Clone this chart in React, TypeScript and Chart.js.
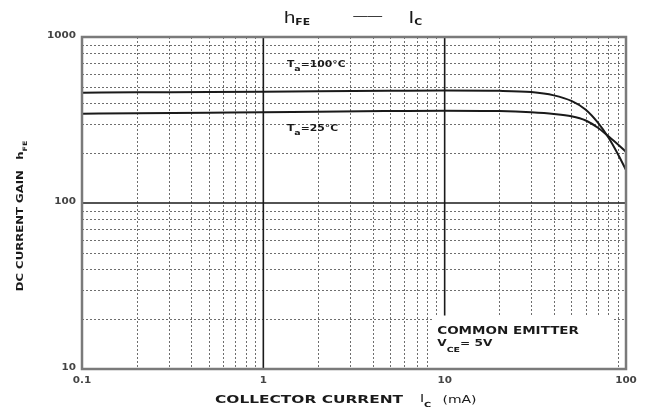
import React, { useEffect, useRef } from "react";
import { Chart, registerables } from "chart.js";

Chart.register(...registerables);

// ---- data ----
const currents = [0.1, 0.2, 0.5, 1, 2, 5, 10, 20, 30, 40, 50, 60, 70, 80, 90, 100];
const hfe100C = [462, 464, 466, 468, 471, 474, 476, 474, 466, 445, 412, 365, 305, 248, 198, 158];
const hfe25C = [345, 347, 350, 352, 355, 358, 360, 358, 352, 344, 333, 314, 284, 252, 226, 203];
const xTickValues = [0.1, 1, 10, 100];
const xTickLabels = ["0.1", "1", "10", "100"];
const yTickValues = [10, 100, 1000];
const yTickLabels = ["10", "100", "1000"];
const xMajorLines = [1, 10];
const yMajorLines = [100];
const xDecades = [0.1, 1, 10];
const yDecades = [10, 100];

const FONT = '"DejaVu Sans", "Liberation Sans", sans-serif';
const TITLE_FONT = '"Liberation Sans", Arial, sans-serif';

type Part = { t: string; size: number; dy?: number; weight?: string; family?: string; gap?: number };

function drawRich(
  ctx: CanvasRenderingContext2D,
  x: number,
  y: number,
  parts: Part[],
  opts: { align?: "left" | "center" | "right"; sx?: number; rot?: number; color?: string } = {}
) {
  const sx = opts.sx ?? 1.35;
  ctx.save();
  const widths = parts.map((p) => {
    ctx.font = `${p.weight ?? "bold"} ${p.size}px ${p.family ?? FONT}`;
    return ctx.measureText(p.t).width;
  });
  const total = widths.reduce((a, w, i) => a + w + (parts[i].gap ?? 0), 0);
  ctx.translate(x, y);
  if (opts.rot) ctx.rotate(opts.rot);
  ctx.scale(sx, 1);
  ctx.fillStyle = opts.color ?? "#1a1a1a";
  ctx.textBaseline = "middle";
  ctx.textAlign = "left";
  let cx = opts.align === "center" ? -total / 2 : opts.align === "right" ? -total : 0;
  parts.forEach((p, i) => {
    ctx.font = `${p.weight ?? "bold"} ${p.size}px ${p.family ?? FONT}`;
    ctx.fillText(p.t, cx, p.dy ?? 0);
    cx += widths[i] + (p.gap ?? 0);
  });
  ctx.restore();
}

const gridPlugin = {
  id: "logGrid",
  beforeDatasetsDraw(chart: any) {
    const { ctx, chartArea: a, scales } = chart;
    const xs = scales.x;
    const ys = scales.y;
    ctx.save();
    ctx.fillStyle = "#ffffff";
    ctx.fillRect(a.left, a.top, a.right - a.left, a.bottom - a.top);

    // minor dotted grid
    ctx.strokeStyle = "#6e6e6e";
    ctx.lineWidth = 1;
    ctx.setLineDash([2, 2]);
    xDecades.forEach((d) => {
      for (let k = 2; k <= 9; k++) {
        const px = Math.round(xs.getPixelForValue(d * k)) + 0.5;
        ctx.beginPath();
        ctx.moveTo(px, a.top);
        ctx.lineTo(px, a.bottom);
        ctx.stroke();
      }
    });
    yDecades.forEach((d) => {
      for (let k = 2; k <= 9; k++) {
        const py = Math.round(ys.getPixelForValue(d * k)) + 0.5;
        ctx.beginPath();
        ctx.moveTo(a.left, py);
        ctx.lineTo(a.right, py);
        ctx.stroke();
      }
    });

    // major solid lines
    ctx.setLineDash([]);
    ctx.strokeStyle = "#1a1a1a";
    ctx.lineWidth = 1.6;
    xMajorLines.forEach((v) => {
      const px = xs.getPixelForValue(v);
      ctx.beginPath();
      ctx.moveTo(px, a.top);
      ctx.lineTo(px, a.bottom);
      ctx.stroke();
    });
    yMajorLines.forEach((v) => {
      const py = ys.getPixelForValue(v);
      ctx.beginPath();
      ctx.moveTo(a.left, py);
      ctx.lineTo(a.right, py);
      ctx.stroke();
    });

    // white panel behind the condition note
    const bx0 = xs.getPixelForValue(8.6);
    const bx1 = xs.getPixelForValue(85);
    const by0 = ys.getPixelForValue(21);
    const by1 = ys.getPixelForValue(10);
    ctx.fillStyle = "#ffffff";
    ctx.fillRect(bx0, by0, bx1 - bx0, by1 - by0);
    ctx.restore();
  },
  afterDatasetsDraw(chart: any) {
    const { ctx, chartArea: a, scales } = chart;
    const xs = scales.x;
    const ys = scales.y;
    ctx.save();
    ctx.strokeStyle = "#7a7a7a";
    ctx.lineWidth = 2.5;
    ctx.strokeRect(a.left, a.top, a.right - a.left, a.bottom - a.top);
    ctx.restore();

    // tick labels
    yTickValues.forEach((v, i) => {
      drawRich(ctx, a.left - 6, ys.getPixelForValue(v) - 1, [{ t: yTickLabels[i], size: 8 }], {
        align: "right",
        sx: 1.3,
        color: "#444",
      });
    });
    xTickValues.forEach((v, i) => {
      drawRich(ctx, xs.getPixelForValue(v), a.bottom + 12, [{ t: xTickLabels[i], size: 8 }], {
        align: "center",
        sx: 1.3,
        color: "#444",
      });
    });

    // in-plot annotations
    drawRich(ctx, xs.getPixelForValue(1.35), ys.getPixelForValue(680), [
      { t: "T", size: 8 },
      { t: "a", size: 7, dy: 4 },
      { t: "=100°C", size: 8 },
    ]);
    drawRich(ctx, xs.getPixelForValue(1.35), ys.getPixelForValue(280), [
      { t: "T", size: 8 },
      { t: "a", size: 7, dy: 4 },
      { t: "=25°C", size: 8 },
    ]);
    drawRich(ctx, xs.getPixelForValue(9.1), ys.getPixelForValue(16.9), [{ t: "COMMON EMITTER", size: 10 }]);
    drawRich(ctx, xs.getPixelForValue(9.1), ys.getPixelForValue(14.2), [
      { t: "V", size: 9 },
      { t: "CE", size: 7, dy: 6 },
      { t: "= 5V", size: 9 },
    ]);

    // title
    drawRich(
      ctx,
      284,
      18,
      [
        { t: "h", size: 17, weight: "normal", family: TITLE_FONT },
        { t: "FE", size: 9, dy: 5, gap: 36 },
        { t: "——", size: 12, weight: "normal", family: TITLE_FONT, dy: -1, gap: 22 },
        { t: "I", size: 17, weight: "normal", family: TITLE_FONT },
        { t: "C", size: 9, dy: 5 },
      ],
      { sx: 1.2 }
    );

    // x-axis title
    drawRich(ctx, 215, 400, [
      { t: "COLLECTOR CURRENT", size: 11, gap: 12 },
      { t: "I", size: 10, dy: -1, weight: "normal" },
      { t: "C", size: 7, dy: 5, gap: 8 },
      { t: "(mA)", size: 10, weight: "normal" },
    ], { sx: 1.4 });

    // y-axis title
    drawRich(
      ctx,
      21,
      216,
      [
        { t: "DC CURRENT GAIN", size: 9, gap: 8 },
        { t: "h", size: 9 },
        { t: "FE", size: 6, dy: 4 },
      ],
      { align: "center", rot: -Math.PI / 2, sx: 1.3 }
    );
  },
};

export default function App() {
  const ref = useRef<HTMLCanvasElement | null>(null);

  useEffect(() => {
    document.body.style.margin = "0";
    const canvas = ref.current;
    if (!canvas) return;
    const chart = new Chart(canvas, {
      type: "line",
      data: {
        datasets: [
          {
            label: "Ta=100°C",
            data: currents.map((c, i) => ({ x: c, y: hfe100C[i] })),
            borderColor: "#1a1a1a",
            borderWidth: 2,
            pointRadius: 0,
            cubicInterpolationMode: "monotone",
          },
          {
            label: "Ta=25°C",
            data: currents.map((c, i) => ({ x: c, y: hfe25C[i] })),
            borderColor: "#1a1a1a",
            borderWidth: 2,
            pointRadius: 0,
            cubicInterpolationMode: "monotone",
          },
        ],
      },
      options: {
        responsive: false,
        animation: false,
        devicePixelRatio: 1,
        layout: { padding: { left: 82, right: 25, top: 37, bottom: 48 } },
        plugins: { legend: { display: false }, tooltip: { enabled: false }, title: { display: false } },
        scales: {
          x: { type: "logarithmic", min: 0.1, max: 100, display: false },
          y: { type: "logarithmic", min: 10, max: 1000, display: false },
        },
      },
      plugins: [gridPlugin],
    });
    return () => chart.destroy();
  }, []);

  return (
    <div style={{ position: "absolute", left: 0, top: 0, width: 651, height: 417, background: "#fff" }}>
      <canvas ref={ref} width={651} height={417} style={{ width: 651, height: 417, display: "block" }} />
    </div>
  );
}
